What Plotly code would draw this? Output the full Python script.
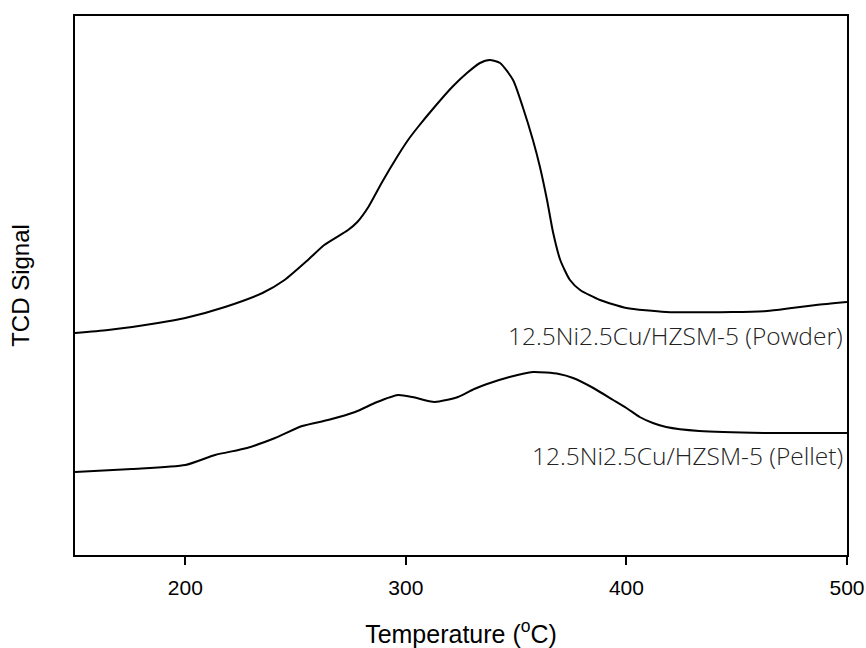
import plotly.graph_objects as go

# Powder sample TPR profile (temperature in °C, TCD signal a.u.)
powder_T = [150, 165, 187.6, 200, 218, 235, 245, 255.6, 263, 273.8, 278, 283, 289, 296,
            301, 305.5, 313, 321, 327.7, 333.6, 338, 342.7, 348.6, 353, 357.6, 360.8,
            364, 366.8, 370, 374.4, 379, 388, 400, 418, 448, 463.7, 475, 486, 500]
powder_S = [2.22, 2.25, 2.32, 2.37, 2.48, 2.62, 2.75, 2.95, 3.10, 3.25, 3.33, 3.48, 3.72,
            3.98, 4.15, 4.28, 4.48, 4.68, 4.82, 4.92, 4.95, 4.92, 4.75, 4.48, 4.15, 3.88,
            3.55, 3.22, 2.95, 2.75, 2.65, 2.55, 2.47, 2.43, 2.43, 2.44, 2.47, 2.50, 2.53]

# Pellet sample TPR profile
pellet_T = [150, 175.8, 200, 213.5, 228, 240.7, 253, 264.7, 277, 287, 296.4, 303, 313,
            323.6, 331, 336.8, 347, 357.6, 369.4, 375.8, 385, 394, 400, 406, 412, 418,
            433, 463.7, 500]
pellet_S = [0.83, 0.86, 0.90, 1.00, 1.07, 1.17, 1.29, 1.35, 1.43, 1.53, 1.60, 1.58, 1.53,
            1.58, 1.66, 1.71, 1.78, 1.83, 1.81, 1.77, 1.67, 1.55, 1.47, 1.38, 1.32, 1.28,
            1.24, 1.22, 1.22]

labels = ["12.5Ni2.5Cu/HZSM-5 (Powder)", "12.5Ni2.5Cu/HZSM-5 (Pellet)"]
label_S = [2.20, 1.00]

x_ticks = [200, 300, 400, 500]

fig = go.Figure()
fig.add_trace(go.Scatter(x=powder_T, y=powder_S, mode="lines",
                         line=dict(color="black", width=2, shape="spline", smoothing=0.6),
                         showlegend=False))
fig.add_trace(go.Scatter(x=pellet_T, y=pellet_S, mode="lines",
                         line=dict(color="black", width=2, shape="spline", smoothing=0.6),
                         showlegend=False))

for lab, ys in zip(labels, label_S):
    fig.add_annotation(x=499, y=ys, xref="x", yref="y", text=lab, showarrow=False,
                       xanchor="right", yanchor="middle",
                       font=dict(family="Open Sans", size=24.5, color="#222222", weight=300))

fig.update_layout(
    width=866, height=648,
    margin=dict(l=75, r=19, t=16, b=93, autoexpand=False),
    paper_bgcolor="white", plot_bgcolor="white",
    font=dict(family="Liberation Sans, Arial", size=21, color="black"),
    xaxis=dict(range=[150, 500], tickvals=x_ticks, ticks="outside", ticklen=8,
               tickwidth=1.5, tickcolor="black", showline=True, linecolor="black",
               linewidth=2, mirror=True, showgrid=False, zeroline=False,
               automargin=False, ticklabeloverflow="allow",
               tickfont=dict(size=21), ticklabelstandoff=5,
               title=dict(text="Temperature (<sup>o</sup>C)", font=dict(size=25), standoff=27)),
    yaxis=dict(range=[0, 5.39], showticklabels=False, ticks="", showline=True,
               linecolor="black", linewidth=2, mirror=True, showgrid=False, zeroline=False,
               automargin=False,
               title=dict(text="TCD Signal", font=dict(size=24), standoff=37)),
)

fig.write_html("out.html")
